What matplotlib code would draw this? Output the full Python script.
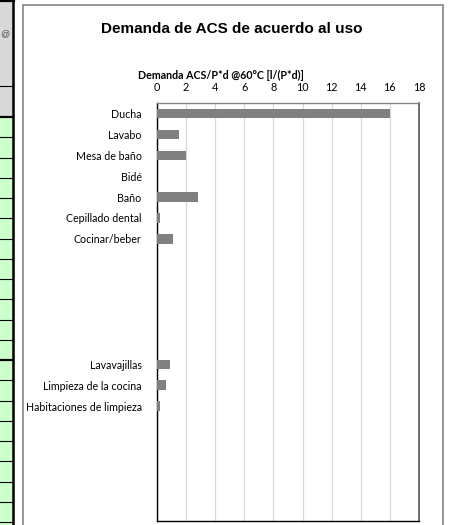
import numpy as np
import matplotlib
matplotlib.use("Agg")
import matplotlib.pyplot as plt
from matplotlib.patches import Rectangle

# Demand of hot water per person and day, by use (l/(P*d) at 60 °C)
CATEGORIES = [
    "Ducha", "Lavabo", "Mesa de baño", "Bidé", "Baño", "Cepillado dental",
    "Cocinar/beber", "", "", "", "", "",
    "Lavavajillas", "Limpieza de la cocina", "Habitaciones de limpieza",
    "", "", "", "", "",
]
VALUES = [
    16.0, 1.5, 2.0, 0.0, 2.8, 0.2,
    1.1, None, None, None, None, None,
    0.9, 0.6, 0.2,
    None, None, None, None, None,
]
X_TICKS = [0, 2, 4, 6, 8, 10, 12, 14, 16, 18]

TITLE = "Demanda de ACS de acuerdo al uso"
X_LABEL = "Demanda ACS/P*d @60°C [l/(P*d)]"

W, H = 452, 525
BAR = "#808080"
GRID = "#d9d9d9"
FRAME = "#868686"
CELL_GREEN = "#ccffcc"
CELL_GREY = "#d9d9d9"
LABEL_FONT = "Lato"

fig = plt.figure(figsize=(W / 100, H / 100), dpi=100, facecolor="white")

# ── background layer in pixel coordinates (sheet cells + chart frame) ─────
bg = fig.add_axes([0, 0, 1, 1])
bg.set_xlim(0, W)
bg.set_ylim(H, 0)
bg.axis("off")

bg.add_patch(Rectangle((0, 1), 13, 116, facecolor=CELL_GREY, edgecolor="none"))
bg.add_patch(Rectangle((0, 117), 13, H - 117, facecolor=CELL_GREEN, edgecolor="none"))
bg.text(0.5, 34, "@", fontsize=6.5, color="#444444", ha="left", va="center",
        family="Liberation Sans")
bg.plot([0, 14], [1, 1], color="black", lw=1.6)
bg.plot([0, 13], [86, 86], color="black", lw=0.8)
y = 117.0
while y < H:
    thick = abs(y - 117) < 1 or abs(y - 360) < 1
    bg.plot([0, 13], [y, y], color="black", lw=1.6 if thick else 0.8)
    y += 20.25
bg.plot([13.5, 13.5], [0, H], color="black", lw=1.8)

# chart area border
bg.add_patch(Rectangle((23, 5), 420, H, facecolor="white", edgecolor=FRAME, lw=1.2))

fig.text(232 / W, 1 - 29 / H, TITLE, fontsize=11, fontweight="bold",
         family="Liberation Sans", ha="center", va="center")
fig.text(221 / W, 1 - 75 / H, X_LABEL, fontsize=7.7, fontweight="bold",
         family=LABEL_FONT, ha="center", va="center")

# ── bar chart ─────────────────────────────────────────────────────────────
ax = fig.add_axes([157 / W, 4 / H, 262 / W, 418 / H])
ax.set_facecolor("none")
vals = np.array([np.nan if v is None else v for v in VALUES], dtype=float)
pos = np.arange(len(CATEGORIES))
ax.barh(pos, vals, height=0.45, color=BAR, zorder=3)

ax.set_xlim(X_TICKS[0], X_TICKS[-1])
ax.set_ylim(len(CATEGORIES) - 0.5, -0.5)
ax.set_xticks(X_TICKS)
ax.xaxis.tick_top()
ax.set_xticklabels([str(t) for t in X_TICKS], fontsize=7.8, family=LABEL_FONT)
ax.set_yticks(pos)
ax.set_yticklabels(CATEGORIES, fontsize=7.7, family=LABEL_FONT)
ax.tick_params(axis="both", length=0)
ax.tick_params(axis="y", pad=11)
ax.tick_params(axis="x", pad=7)
ax.grid(axis="x", color=GRID, lw=0.9, zorder=0)

ax.spines["left"].set_color("black")
ax.spines["bottom"].set_color("black")
ax.spines["left"].set_linewidth(1.0)
ax.spines["bottom"].set_linewidth(1.0)
ax.spines["top"].set_color(FRAME)
ax.spines["right"].set_color("#555555")
ax.spines["top"].set_linewidth(1.0)
ax.spines["right"].set_linewidth(1.2)

fig.savefig("out.png", dpi=100, facecolor="white")
